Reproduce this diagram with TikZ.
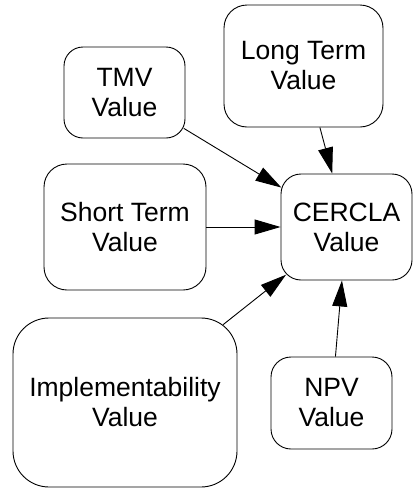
\documentclass[tikz,border=0pt]{standalone}
\usepackage{fontspec}
\setmainfont{Liberation Sans}
\usetikzlibrary{arrows.meta}
\begin{document}
\begin{tikzpicture}[x=1pt,y=-1pt,
  box/.style={draw=black, line width=0.9pt, rectangle, inner sep=0pt, align=center,
    font=\fontsize{26.5}{30}\selectfont},
  link/.style={draw=black, line width=0.9pt, -{Triangle[length=26pt,width=15pt]}}]
\useasboundingbox (0,0) rectangle (413,488);
\node[box, rounded corners=19pt, minimum width=121pt, minimum height=91pt] (tmv) at (124.5,92.5) {TMV\\Value};
\node[box, rounded corners=23pt, minimum width=159pt, minimum height=122pt] (lt) at (303.5,66) {Long Term\\Value};
\node[box, rounded corners=23pt, minimum width=162pt, minimum height=126pt] (st) at (125,227) {Short Term\\Value};
\node[box, rounded corners=20pt, minimum width=131pt, minimum height=106pt] (cercla) at (346.5,227) {CERCLA\\Value};
\node[box, rounded corners=36pt, minimum width=224pt, minimum height=169pt] (impl) at (125,402.5) {Implementability\\Value};
\node[box, rounded corners=20pt, minimum width=121pt, minimum height=92pt] (npv) at (331.5,403) {NPV\\Value};
\draw[link, shorten <=-2pt, shorten >=-1pt] (tmv) -- (cercla);
\draw[link] (lt) -- (cercla);
\draw[link] (st) -- (cercla);
\draw[link, shorten <=-11.5pt, shorten >=-7pt] (impl) -- (cercla);
\draw[link] (npv) -- (cercla);
\end{tikzpicture}
\end{document}
